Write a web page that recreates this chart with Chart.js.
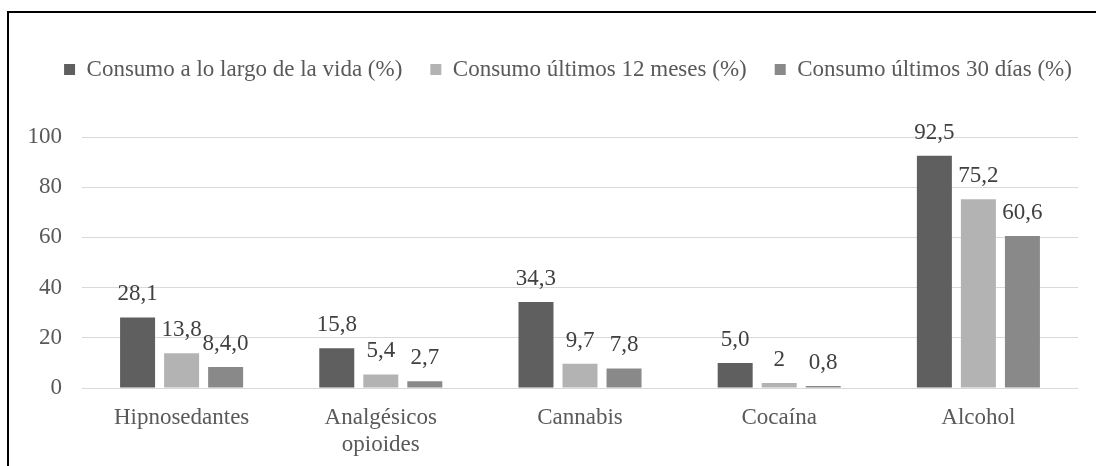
<!DOCTYPE html>
<html>
<head>
<meta charset="utf-8">
<script src="https://cdn.jsdelivr.net/npm/chart.js@4.4.0/dist/chart.umd.min.js"></script>
<style>
  html, body { margin: 0; padding: 0; background: #ffffff; }
  #wrap { position: relative; width: 1096px; height: 466px; }
  canvas { display: block; }
</style>
</head>
<body>
<div id="wrap"><canvas id="c" width="1096" height="466"></canvas></div>
<script>
const categories = ['Hipnosedantes', ['Analgésicos', 'opioides'], 'Cannabis', 'Cocaína', 'Alcohol'];
const seriesNames = ['Consumo a lo largo de la vida (%)', 'Consumo últimos 12 meses (%)', 'Consumo últimos 30 días (%)'];
const vidaValues = [28.1, 15.8, 34.3, 10.0, 92.5];
const meses12Values = [13.8, 5.4, 9.7, 2.0, 75.2];
const dias30Values = [8.4, 2.7, 7.8, 0.8, 60.6];
const vidaLabels = ['28,1', '15,8', '34,3', '5,0', '92,5'];
const meses12Labels = ['13,8', '5,4', '9,7', '2', '75,2'];
const dias30Labels = ['8,4,0', '2,7', '7,8', '0,8', '60,6'];
const yTicks = [0, 20, 40, 60, 80, 100];

const FONT = "'Liberation Serif', 'Times New Roman', Times, serif";
const FS = 23;
const colors = ['#5f5f5f', '#b3b3b3', '#898989'];
const valueLabels = [vidaLabels, meses12Labels, dias30Labels];

const frame = {
  id: 'frame',
  beforeDraw(chart) {
    const ctx = chart.ctx;
    ctx.save();
    ctx.fillStyle = '#ffffff';
    ctx.fillRect(0, 0, chart.width, chart.height);
    ctx.strokeStyle = '#000000';
    ctx.lineWidth = 2;
    ctx.beginPath();
    ctx.moveTo(8, chart.height);
    ctx.lineTo(8, 12);
    ctx.lineTo(chart.width, 12);
    ctx.stroke();
    ctx.restore();
  }
};

const legendSpace = {
  id: 'legendSpace',
  beforeLayout(chart) {
    const lg = chart.legend;
    if (lg && !lg._patched) {
      const orig = lg.fit.bind(lg);
      lg.fit = function () { orig(); this.height += 46; };
      lg._patched = true;
    }
  },
  afterLayout(chart) {
    const lg = chart.legend;
    if (lg) { lg.left += 29; lg.right += 29; }
  }
};

const dataLabels = {
  id: 'dataLabels',
  afterDatasetsDraw(chart) {
    const ctx = chart.ctx;
    ctx.save();
    ctx.font = FS + 'px ' + FONT;
    ctx.fillStyle = '#404040';
    ctx.textAlign = 'center';
    ctx.textBaseline = 'alphabetic';
    chart.data.datasets.forEach((ds, di) => {
      const meta = chart.getDatasetMeta(di);
      meta.data.forEach((el, i) => {
        ctx.fillText(valueLabels[di][i], el.x, el.y - 17);
      });
    });
    ctx.restore();
  }
};

new Chart(document.getElementById('c'), {
  type: 'bar',
  data: {
    labels: categories,
    datasets: [
      { label: seriesNames[0], data: vidaValues, backgroundColor: colors[0] },
      { label: seriesNames[1], data: meses12Values, backgroundColor: colors[1] },
      { label: seriesNames[2], data: dias30Values, backgroundColor: colors[2] }
    ]
  },
  options: {
    responsive: false,
    animation: false,
    devicePixelRatio: 1,
    layout: { padding: { top: 30, right: 18, bottom: 0, left: 0 } },
    datasets: { bar: { categoryPercentage: 0.663, barPercentage: 0.795 } },
    plugins: {
      legend: {
        position: 'top',
        labels: {
          boxWidth: 11,
          boxHeight: 11,
          padding: 28,
          color: '#595959',
          font: { family: FONT, size: FS }
        }
      },
      tooltip: { enabled: false }
    },
    scales: {
      x: {
        grid: { display: false, drawTicks: false },
        border: { display: false },
        ticks: { color: '#595959', font: { family: FONT, size: FS }, padding: 16, maxRotation: 0, autoSkip: false },
        afterFit(s) { s.height = 78; }
      },
      y: {
        min: 0, max: 100,
        afterBuildTicks(s) { s.ticks = yTicks.map(v => ({ value: v })); },
        grid: { color: '#d9d9d9', lineWidth: 1, drawTicks: false },
        border: { display: false },
        ticks: { color: '#595959', font: { family: FONT, size: FS }, padding: 20 },
        afterFit(s) { s.width = 82; }
      }
    }
  },
  plugins: [frame, legendSpace, dataLabels]
});
</script>
</body>
</html>
